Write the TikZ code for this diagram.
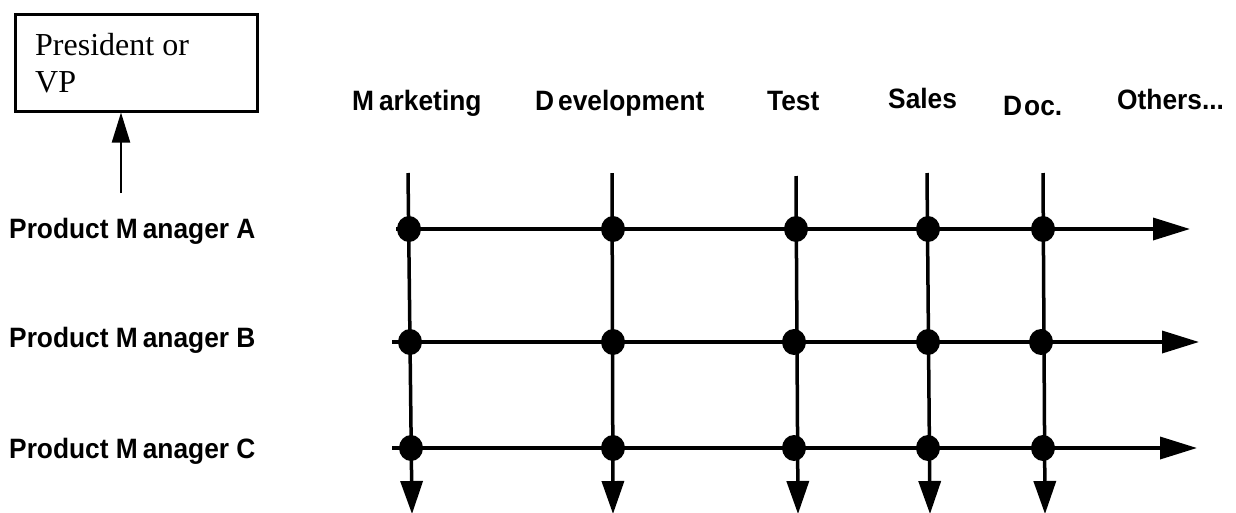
\documentclass[tikz,border=0pt]{standalone}
\usepackage{fontspec}
\setmainfont{Liberation Serif}
\setsansfont{Liberation Sans}
\newfontfamily\labelfont{Liberation Sans}[FakeStretch=0.94]
\usetikzlibrary{arrows.meta,shapes.geometric}

\tikzset{
  head/.style={font=\labelfont\bfseries\fontsize{28}{32}\selectfont, anchor=base west, inner sep=0},
  pmlabel/.style={font=\labelfont\bfseries\fontsize{28}{32}\selectfont, anchor=base west, inner sep=0},
  dot/.style={ellipse, fill=black, minimum width=24pt, minimum height=26pt, inner sep=0},
  vline/.style={line width=3.5pt, -{Triangle[length=33pt,width=22pt]}, shorten >=-1pt},
  hline/.style={line width=3.5pt, -{Triangle[length=37pt,width=22pt]}},
}
\newcommand{\Mk}{M\kern5pt}
\newcommand{\Dk}{D\kern4pt}

\begin{document}
\begin{tikzpicture}[x=1pt,y=-1pt]
  \useasboundingbox (0,0) rectangle (1236,512);

  % executive box
  \node[draw, line width=2.5pt, minimum width=242pt, minimum height=97pt, anchor=north west, inner sep=0] (pres) at (14,13) {};
  \node[anchor=base west, inner sep=0, font=\fontsize{32}{37}\selectfont] (presLabel) at (35,55)
    {\parbox[t]{210pt}{\raggedright President or\\VP}};
  \coordinate (repBot) at (121,193);
  \draw[line width=2.2pt, -{Triangle[length=30pt,width=18pt]}] (repBot) -- (repBot |- pres.south);

  % function headings
  \node[head] (hMkt) at (352,110) {\Mk arketing};
  \node[head] (hDev) at (535,110) {\Dk evelopment};
  \node[head] (hTst) at (767,110) {Test};
  \node[head] (hSal) at (888,108) {Sales};
  \node[head] (hDoc) at (1003,115) {D\kern2pt oc.};
  \node[head] (hOth) at (1117,109) {Others...};

  % product managers
  \node[pmlabel] (pmA) at (9,238) {Product \Mk anager A};
  \node[pmlabel] (pmB) at (9,347) {Product \Mk anager B};
  \node[pmlabel] (pmC) at (9,458) {Product \Mk anager C};

  % ends of the vertical lines
  \coordinate (mT) at (408,173);  \coordinate (mE) at (412,513);
  \coordinate (dT) at (612,173);  \coordinate (dE) at (613,513);
  \coordinate (tT) at (796,176);  \coordinate (tE) at (798,513);
  \coordinate (sT) at (927,173);  \coordinate (sE) at (930,513);
  \coordinate (oT) at (1043,173); \coordinate (oE) at (1045,513);

  % ends of the horizontal lines
  \coordinate (aL) at (396,229); \coordinate (aR) at (1190,229);
  \coordinate (bL) at (392,342); \coordinate (bR) at (1199,342);
  \coordinate (cL) at (392,448); \coordinate (cR) at (1197,448);

  \draw[vline] (mT) -- (mE);
  \draw[vline] (dT) -- (dE);
  \draw[vline] (tT) -- (tE);
  \draw[vline] (sT) -- (sE);
  \draw[vline] (oT) -- (oE);

  \draw[hline] (aL) -- (aR);
  \draw[hline] (bL) -- (bR);
  \draw[hline] (cL) -- (cR);

  % crossings
  \node[dot] (mA) at (409,229) {};
  \node[dot] (mB) at (410,342) {};
  \node[dot] (mC) at (411,448) {};
  \node[dot] (dA) at (613,229) {};
  \node[dot] (dB) at (613,342) {};
  \node[dot] (dC) at (613,448) {};
  \node[dot] (tA) at (796,229) {};
  \node[dot] (tB) at (794,342) {};
  \node[dot] (tC) at (794,448) {};
  \node[dot] (sA) at (928,229) {};
  \node[dot] (sB) at (928,342) {};
  \node[dot] (sC) at (928,448) {};
  \node[dot] (oA) at (1043,229) {};
  \node[dot] (oB) at (1041,342) {};
  \node[dot] (oC) at (1043,448) {};
\end{tikzpicture}
\end{document}
